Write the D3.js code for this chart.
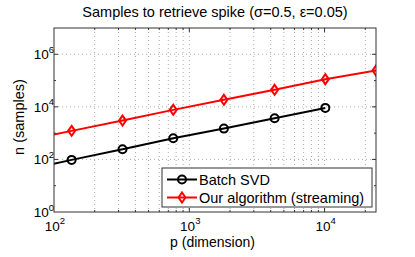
<!DOCTYPE html>
<html>
<head>
<meta charset="utf-8">
<script src="https://cdn.jsdelivr.net/npm/d3@7"></script>
<style>
  body { margin: 0; background: #fff; }
  text { font-family: "Liberation Sans", Arial, sans-serif; fill: #000; }
</style>
</head>
<body>
<div id="chart"></div>
<script>
// chart size
const WIDTH = 415;
const HEIGHT = 257;

// data (first point sits left of the axis and gets clipped)
const dims = [57, 135, 321, 761, 1803, 4273, 10127, 24000];
const batchSvd = [37, 96, 245, 640, 1490, 3710, 9120];
const streaming = [490, 1220, 3010, 7690, 18500, 44500, 113000, 241000];
const seriesNames = ["Batch SVD", "Our algorithm (streaming)"];
const xTicks = [1e2, 1e3, 1e4];
const yTicks = [1e0, 1e2, 1e4, 1e6];
const titleText = "Samples to retrieve spike (\u03c3=0.5, \u03b5=0.05)";

const pLeft = 54, pRight = 376, pTop = 28, pBottom = 212;
const labelSize = 14.5, tickSize = 13.5;

const svg = d3.select("#chart").append("svg")
  .attr("width", WIDTH)
  .attr("height", HEIGHT);

const x = d3.scaleLog().domain([100, 24000]).range([pLeft, pRight]);
const y = d3.scaleLog().domain([1, 1e7]).range([pBottom, pTop]);

svg.append("defs").append("clipPath").attr("id", "plot")
  .append("rect")
  .attr("x", pLeft).attr("y", pTop)
  .attr("width", pRight - pLeft).attr("height", pBottom - pTop);

// grid
const minorX = [];
for (let d = 100; d < 24000; d *= 10) {
  for (let k = 1; k < 10; k++) {
    const v = d * k;
    if (v > 100 && v < 24000) minorX.push(v);
  }
}
svg.append("g").selectAll("line").data(minorX).join("line")
  .attr("x1", d => x(d)).attr("x2", d => x(d))
  .attr("y1", pTop).attr("y2", pBottom)
  .attr("stroke", "#aaa").attr("stroke-width", 1)
  .attr("stroke-dasharray", "1,3");

svg.append("g").selectAll("line").data(yTicks.slice(1)).join("line")
  .attr("x1", pLeft).attr("x2", pRight)
  .attr("y1", d => y(d)).attr("y2", d => y(d))
  .attr("stroke", "#aaa").attr("stroke-width", 1)
  .attr("stroke-dasharray", "1,3");

// ticks (inward, all four sides)
const tickG = svg.append("g").attr("stroke", "#333").attr("stroke-width", 1);
minorX.forEach(v => {
  const len = xTicks.includes(v) ? 4 : 2;
  tickG.append("line").attr("x1", x(v)).attr("x2", x(v)).attr("y1", pBottom).attr("y2", pBottom - len);
  tickG.append("line").attr("x1", x(v)).attr("x2", x(v)).attr("y1", pTop).attr("y2", pTop + len);
});
[1e1, 1e2, 1e3, 1e4, 1e5, 1e6].forEach(v => {
  const len = yTicks.includes(v) ? 4 : 2;
  tickG.append("line").attr("x1", pLeft).attr("x2", pLeft + len).attr("y1", y(v)).attr("y2", y(v));
  tickG.append("line").attr("x1", pRight).attr("x2", pRight - len).attr("y1", y(v)).attr("y2", y(v));
});

// tick labels: 10 with superscript exponent
function powLabel(sel, v) {
  sel.text("10");
  sel.append("tspan")
    .attr("dy", -6.5)
    .attr("font-size", 9.5)
    .text(Math.round(Math.log10(v)));
}
xTicks.forEach(v => {
  svg.append("text")
    .attr("x", x(v) + 1)
    .attr("y", 230.5)
    .attr("text-anchor", "middle")
    .attr("font-size", tickSize)
    .call(powLabel, v);
});
yTicks.forEach(v => {
  svg.append("text")
    .attr("x", 54)
    .attr("y", y(v) + 5)
    .attr("text-anchor", "end")
    .attr("font-size", tickSize)
    .call(powLabel, v);
});

// series
const plot = svg.append("g").attr("clip-path", "url(#plot)");
const line = d3.line().x(d => x(d[0])).y(d => y(d[1]));

const batchPts = batchSvd.map((v, i) => [dims[i], v]);
const streamPts = streaming.map((v, i) => [dims[i], v]);

plot.append("path").datum(streamPts)
  .attr("d", line).attr("fill", "none")
  .attr("stroke", "#ff0000").attr("stroke-width", 2);
plot.append("path").datum(batchPts)
  .attr("d", line).attr("fill", "none")
  .attr("stroke", "#000").attr("stroke-width", 2);

function diamond(cx, cy) {
  return `M${cx},${cy - 5}L${cx + 3.5},${cy}L${cx},${cy + 5}L${cx - 3.5},${cy}Z`;
}

plot.selectAll(".stream-mark").data(streamPts).join("path")
  .attr("class", "stream-mark")
  .attr("d", d => diamond(x(d[0]), y(d[1])))
  .attr("fill", "none").attr("stroke", "#ff0000").attr("stroke-width", 2);

plot.selectAll(".batch-mark").data(batchPts).join("circle")
  .attr("class", "batch-mark")
  .attr("cx", d => x(d[0])).attr("cy", d => y(d[1]))
  .attr("r", 4)
  .attr("fill", "none").attr("stroke", "#000").attr("stroke-width", 2);

// axes box
svg.append("rect")
  .attr("x", pLeft).attr("y", pTop)
  .attr("width", pRight - pLeft).attr("height", pBottom - pTop)
  .attr("fill", "none").attr("stroke", "#333").attr("stroke-width", 1);

// labels
svg.append("text")
  .attr("x", (pLeft + pRight) / 2).attr("y", 16.5)
  .attr("text-anchor", "middle").attr("font-size", labelSize)
  .text(titleText);

svg.append("text")
  .attr("x", 212.5).attr("y", 246.5)
  .attr("text-anchor", "middle").attr("font-size", 14)
  .text("p (dimension)");

svg.append("text")
  .attr("transform", "translate(24,117) rotate(-90)")
  .attr("text-anchor", "middle").attr("font-size", labelSize)
  .text("n (samples)");

// legend
const legend = svg.append("g");
legend.append("rect")
  .attr("x", 162).attr("y", 168)
  .attr("width", 210).attr("height", 39)
  .attr("fill", "#fff").attr("stroke", "#333").attr("stroke-width", 1);

const colors = ["#000", "#ff0000"];
seriesNames.forEach((name, i) => {
  const ly = 179.5 + i * 18;
  legend.append("line")
    .attr("x1", 167).attr("x2", 197).attr("y1", ly).attr("y2", ly)
    .attr("stroke", colors[i]).attr("stroke-width", 2);
  if (i === 0) {
    legend.append("circle").attr("cx", 182).attr("cy", ly).attr("r", 4)
      .attr("fill", "none").attr("stroke", colors[i]).attr("stroke-width", 2);
  } else {
    legend.append("path").attr("d", diamond(182, ly))
      .attr("fill", "none").attr("stroke", colors[i]).attr("stroke-width", 2);
  }
  legend.append("text")
    .attr("x", 199).attr("y", ly + 5)
    .attr("font-size", labelSize)
    .text(name);
});
</script>
</body>
</html>
